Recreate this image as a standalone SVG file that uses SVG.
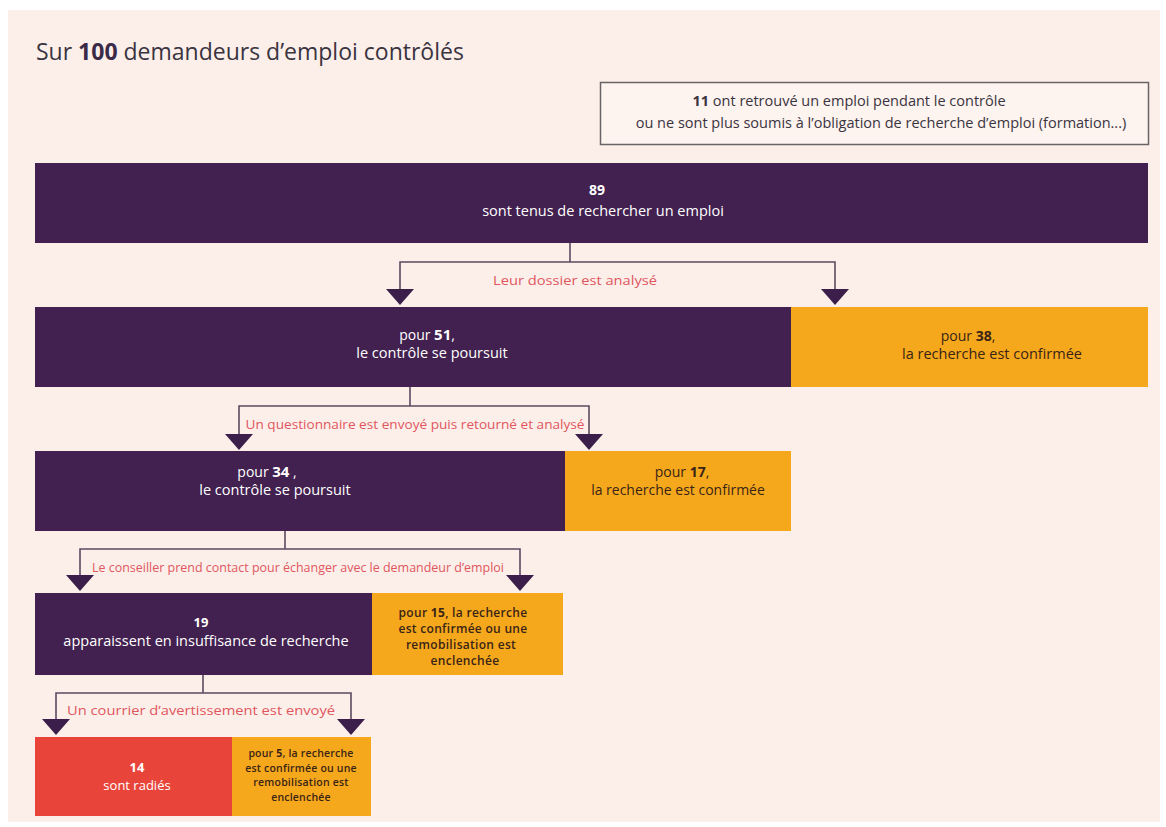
<svg xmlns="http://www.w3.org/2000/svg" width="1166" height="827" viewBox="0 0 1166 827">
<style>
.t{font-family:"Open Sans","Noto Sans",sans-serif}
.w{fill:#ffffff}
.d{fill:#3a2416}
.lbl{fill:#e0565e;font-size:13px}
.b{font-weight:700}
.pu{fill:#42204f}
.or{fill:#f6a81d}
.rd{fill:#e8443a}
.ln{stroke:#5a4a60;stroke-width:1.6;fill:none}
.ar{fill:#3b1f4a}
</style>
<rect x="0" y="0" width="1166" height="827" fill="#ffffff"/>
<rect x="8" y="10" width="1152" height="812" fill="#fcefea"/>
<text class="t" x="36" y="60" font-size="23" fill="#3a3340">Sur <tspan class="b" fill="#3a2a48">100</tspan> demandeurs d’emploi contrôlés</text>

<g id="n-hors">
<rect x="600.5" y="82.5" width="548" height="62" fill="#fdf3ef" stroke="#6a6366" stroke-width="1.5"/>
<text class="t" x="849" y="106" font-size="14.5" fill="#3a3340" text-anchor="middle"><tspan class="b">11</tspan> ont retrouvé un emploi pendant le contrôle</text>
<text class="t" x="881" y="128" font-size="14.5" fill="#3a3340" text-anchor="middle">ou ne sont plus soumis à l’obligation de recherche d’emploi (formation...)</text>
</g>

<g id="n-89">
<rect class="pu" x="35" y="163" width="1113" height="80"/>
<text class="t w b" x="597" y="195" font-size="14" text-anchor="middle">89</text>
<text class="t w" x="603" y="216" font-size="14.5" text-anchor="middle">sont tenus de rechercher un emploi</text>
</g>

<g id="n-51">
<rect class="pu" x="35" y="307" width="756" height="80"/>
<text class="t w" x="427" y="340" font-size="14" text-anchor="middle">pour <tspan class="b" font-size="15">51</tspan>,</text>
<text class="t w" x="432" y="358" font-size="14.5" text-anchor="middle">le contrôle se poursuit</text>
</g>
<g id="n-38">
<rect class="or" x="791" y="307" width="357" height="80"/>
<text class="t d" x="968" y="341" font-size="14" text-anchor="middle">pour <tspan class="b">38</tspan>,</text>
<text class="t d" x="992" y="359" font-size="14.5" text-anchor="middle">la recherche est confirmée</text>
</g>

<g id="n-34">
<rect class="pu" x="35" y="451" width="530" height="80"/>
<text class="t w" x="267" y="477" font-size="14" text-anchor="middle">pour <tspan class="b" font-size="15">34</tspan> ,</text>
<text class="t w" x="275" y="495" font-size="14.5" text-anchor="middle">le contrôle se poursuit</text>
</g>
<g id="n-17">
<rect class="or" x="565" y="451" width="226" height="80"/>
<text class="t d" x="682" y="477" font-size="14" text-anchor="middle">pour <tspan class="b">17</tspan>,</text>
<text class="t d" x="678" y="495" font-size="14" text-anchor="middle">la recherche est confirmée</text>
</g>

<g id="n-19">
<rect class="pu" x="35" y="593" width="337" height="82"/>
<text class="t w b" x="201" y="627" font-size="13" text-anchor="middle">19</text>
<text class="t w" x="206" y="646" font-size="14.5" text-anchor="middle">apparaissent en insuffisance de recherche</text>
</g>
<g id="n-15">
<rect class="or" x="372" y="593" width="191" height="82"/>
<text class="t d" x="463" y="617" font-size="12" text-anchor="middle" font-weight="600" letter-spacing="0.3">pour <tspan class="b">15</tspan>, la recherche</text>
<text class="t d" x="463" y="633" font-size="12" text-anchor="middle" font-weight="600" letter-spacing="0.3">est confirmée ou une</text>
<text class="t d" x="461" y="649" font-size="12" text-anchor="middle" font-weight="600" letter-spacing="0.3">remobilisation est</text>
<text class="t d" x="465" y="665" font-size="12" text-anchor="middle" font-weight="600" letter-spacing="0.3">enclenchée</text>
</g>

<g id="n-14">
<rect class="rd" x="35" y="737" width="197" height="79"/>
<text class="t w b" x="137" y="772" font-size="13" text-anchor="middle">14</text>
<text class="t w" x="137" y="790" font-size="13" text-anchor="middle">sont radiés</text>
</g>
<g id="n-5">
<rect class="or" x="232" y="737" width="139" height="79"/>
<text class="t d" x="301" y="757" font-size="10.5" text-anchor="middle" font-weight="600" letter-spacing="0.2">pour <tspan class="b">5</tspan>, la recherche</text>
<text class="t d" x="301" y="771.5" font-size="10.5" text-anchor="middle" font-weight="600" letter-spacing="0.2">est confirmée ou une</text>
<text class="t d" x="301" y="786" font-size="10.5" text-anchor="middle" font-weight="600" letter-spacing="0.2">remobilisation est</text>
<text class="t d" x="301" y="800.5" font-size="10.5" text-anchor="middle" font-weight="600" letter-spacing="0.2">enclenchée</text>
</g>

<g id="connectors">
<path class="ln" d="M570 243V262M400 290V262H835V290"/>
<path class="ar" d="M386 289H414L400 305Z"/>
<path class="ar" d="M821 289H849L835 305Z"/>
<text class="t lbl" x="575" y="285" text-anchor="middle" textLength="164" lengthAdjust="spacingAndGlyphs">Leur dossier est analysé</text>

<path class="ln" d="M410 387V406M239 434V406H589V434"/>
<path class="ar" d="M225 434H253L239 450Z"/>
<path class="ar" d="M575 434H603L589 450Z"/>
<text class="t lbl" x="415" y="429" font-size="12" text-anchor="middle" textLength="339" lengthAdjust="spacingAndGlyphs">Un questionnaire est envoyé puis retourné et analysé</text>

<path class="ln" d="M285 531V549M80 575V549H520V575"/>
<path class="ar" d="M66 575H94L80 591Z"/>
<path class="ar" d="M506 575H534L520 591Z"/>
<text class="t lbl" x="298" y="572" font-size="11.5" text-anchor="middle" textLength="412" lengthAdjust="spacingAndGlyphs">Le conseiller prend contact pour échanger avec le demandeur d’emploi</text>

<path class="ln" d="M203 675V693M56 719V693H351V719"/>
<path class="ar" d="M42 719H70L56 735Z"/>
<path class="ar" d="M337 719H365L351 735Z"/>
<text class="t lbl" x="201" y="715" text-anchor="middle" textLength="268" lengthAdjust="spacingAndGlyphs">Un courrier  d’avertissement est envoyé</text>
</g>
</svg>
